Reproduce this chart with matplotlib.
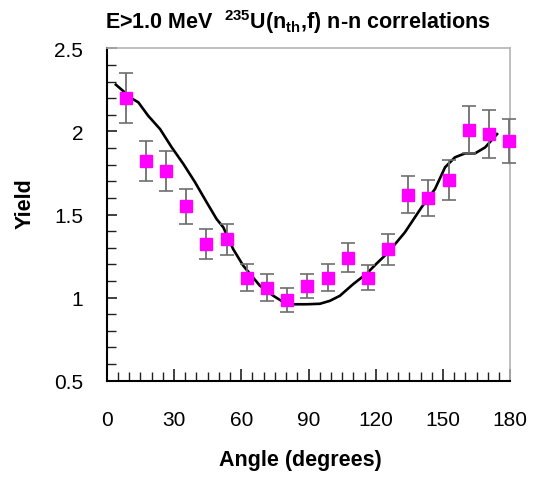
import matplotlib
matplotlib.use("Agg")
import matplotlib.pyplot as plt
from matplotlib.ticker import MultipleLocator

plt.rcParams["font.family"] = ["Liberation Sans", "DejaVu Sans"]
plt.rcParams["mathtext.fontset"] = "custom"
plt.rcParams["mathtext.rm"] = "Liberation Sans:bold"
plt.rcParams["mathtext.it"] = "Liberation Sans:bold"
plt.rcParams["mathtext.bf"] = "Liberation Sans:bold"

# measured n-n correlation yields
angles = [8.5, 17.5, 26.5, 35.5, 44.5, 53.5, 62.5, 71.5, 80.5, 89.5,
          98.5, 107.5, 116.5, 125.5, 134.5, 143.5, 152.5, 161.5, 170.5, 179.5]
yields = [2.20, 1.82, 1.76, 1.55, 1.32, 1.35, 1.12, 1.06, 0.985, 1.07,
          1.12, 1.24, 1.12, 1.29, 1.62, 1.60, 1.71, 2.01, 1.985, 1.94]
errors = [0.15, 0.12, 0.12, 0.105, 0.09, 0.095, 0.08, 0.08, 0.07, 0.07,
          0.08, 0.086, 0.077, 0.095, 0.11, 0.11, 0.12, 0.14, 0.145, 0.133]

# calculation curve
calc_angle = [4.1, 11.1, 14.1, 18.5, 23.8, 29.0, 34.2, 39.4, 44.6, 49.0,
              52.0, 56.4, 60.9, 68.3, 74.3, 80.2, 83.2, 89.1, 95.1, 99.6,
              104.0, 110.0, 116.0, 120.0, 125.6, 133.0, 140.4, 146.4, 150.9,
              155.3, 159.8, 164.3, 168.8, 174.1]
calc_yield = [2.281, 2.199, 2.175, 2.094, 2.014, 1.904, 1.804, 1.694, 1.573, 1.473,
              1.423, 1.292, 1.192, 1.072, 1.011, 0.961, 0.960, 0.960, 0.963, 0.981,
              1.011, 1.082, 1.145, 1.200, 1.273, 1.393, 1.543, 1.653, 1.784,
              1.844, 1.868, 1.868, 1.904, 1.984]

fig = plt.figure(figsize=(5.4, 4.81), dpi=100)
ax = fig.add_axes([0.1976, 0.2064, 0.7474, 0.6911])

ax.plot(calc_angle, calc_yield, color="black", lw=1.9, zorder=2)

_, caps, bars = ax.errorbar(angles, yields, yerr=errors, fmt="none",
                            ecolor="#6e6e6e", elinewidth=1.3, capsize=5,
                            capthick=1.2, zorder=3, clip_on=False)
for c in caps:
    c.set_color("black")
    c.set_clip_on(False)
for b in bars:
    b.set_clip_on(False)
ax.plot(angles, yields, "s", color="#ff00ff", ms=9.2, mec="#ff00ff",
        zorder=4, clip_on=False)

ax.set_xlim(0, 180)
ax.set_ylim(0.5, 2.5)
ax.xaxis.set_major_locator(MultipleLocator(30))
ax.xaxis.set_minor_locator(MultipleLocator(5))
ax.yaxis.set_major_locator(MultipleLocator(0.5))
ax.yaxis.set_minor_locator(MultipleLocator(0.1))
ax.set_yticks([0.5, 1, 1.5, 2, 2.5], ["0.5", "1", "1.5", "2", "2.5"])

ax.tick_params(which="both", direction="in", color="#202020", labelsize=15,
               top=False, right=False)
ax.tick_params(axis="y", which="major", length=7.5, width=1.2, pad=17)
ax.tick_params(axis="y", which="minor", length=6.5, width=1.0)
ax.tick_params(axis="x", which="major", length=9, width=1.2, pad=21)
ax.tick_params(axis="x", which="minor", length=6.5, width=1.0)

ax.spines["left"].set_linewidth(1.5)
ax.spines["bottom"].set_linewidth(1.5)
ax.spines["top"].set_color("#b4b4b4")
ax.spines["right"].set_color("#b4b4b4")
ax.spines["top"].set_linewidth(1.2)
ax.spines["right"].set_linewidth(1.2)

ax.set_xlabel("Angle (degrees)", fontsize=15.5, fontweight="bold")
ax.set_ylabel("Yield", fontsize=15.5, fontweight="bold")
ax.xaxis.set_label_coords(0.481, -0.205)
ax.yaxis.set_label_coords(-0.175, 0.535)

fig.text(0.194, 1 - 29.5 / 481,
         r"E>1.0 MeV  $^{235}$U(n$_{th}$,f) n-n correlations",
         fontsize=15.5, fontweight="bold", ha="left", va="baseline")

fig.savefig("out.png", dpi=100)
